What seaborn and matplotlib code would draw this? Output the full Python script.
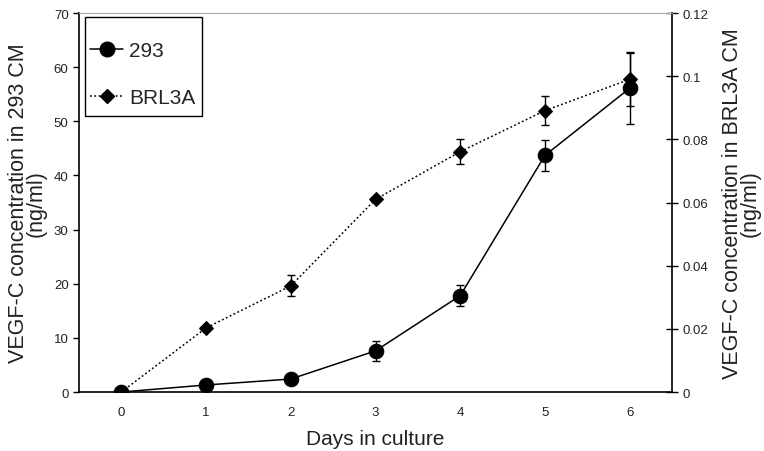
import numpy as np
import pandas as pd
import seaborn as sns
from matplotlib import pyplot as plt
from matplotlib.lines import Line2D
from matplotlib.patches import Rectangle

days = [0, 1, 2, 3, 4, 5, 6]
conc_293 = [0.0, 1.3, 2.4, 7.6, 17.8, 43.7, 56.1]
err_293 = [0.0, 0.0, 0.0, 1.8, 2.0, 2.8, 6.6]
conc_brl = [0.0, 0.0203, 0.0336, 0.061, 0.0761, 0.0891, 0.099]
err_brl = [0.0, 0.0, 0.0033, 0.0, 0.0039, 0.0046, 0.0085]

df = pd.DataFrame({'day': days, 'c293': conc_293, 'e293': err_293,
                   'cbrl': conc_brl, 'ebrl': err_brl})

sns.set_theme(style='white')
plt.rcParams['font.family'] = ['Liberation Sans', 'DejaVu Sans']

fig = plt.figure(figsize=(7.64, 4.52), dpi=100)
ax = fig.add_axes([0.1034, 0.1305, 0.7762, 0.8385])
ax2 = ax.twinx()

# 293 series, left axis
sns.lineplot(data=df, x='day', y='c293', ax=ax, color='black', lw=1.1,
             marker='o', markersize=10.5, markeredgecolor='black', zorder=3)
ax.errorbar(df['day'], df['c293'], yerr=df['e293'], fmt='none',
            ecolor='black', elinewidth=1, capsize=3, capthick=1, zorder=2)

# BRL3A series, right axis
sns.lineplot(data=df, x='day', y='cbrl', ax=ax2, color='black', lw=1.1,
             marker='D', markersize=7, markeredgecolor='black', zorder=3)
ax2.lines[-1].set_dashes([1.2, 1.6])
ax2.errorbar(df['day'], df['cbrl'], yerr=df['ebrl'], fmt='none',
             ecolor='black', elinewidth=1, capsize=3, capthick=1, zorder=2)

ax.set_xlim(-0.5, 6.5)
ax.set_ylim(0, 70)
ax2.set_ylim(0, 0.12)

ax.set_yticks(np.arange(0, 71, 10))
ax2.set_yticks(np.arange(0, 0.121, 0.02))
ax2.set_yticklabels(['0', '0.02', '0.04', '0.06', '0.08', '0.1', '0.12'])

# category axis: ticks between days, labels at days
ax.set_xticks(np.arange(-0.5, 6.6, 1))
ax.set_xticklabels([])
ax.set_xticks(days, minor=True)
ax.set_xticklabels([str(d) for d in days], minor=True)
ax.tick_params(axis='x', which='major', direction='inout', length=8,
               width=1, color='black')
ax.tick_params(axis='x', which='minor', length=0, pad=10,
               labelsize=9.5, labelcolor='#222222')
ax.tick_params(axis='y', direction='out', length=4, width=1, color='black',
               labelsize=9.5, labelcolor='#222222', left=True)
ax2.tick_params(axis='y', direction='inout', length=8, width=1,
                color='black', labelsize=9.5, labelcolor='#222222', right=True)

for a in (ax, ax2):
    for s in a.spines.values():
        s.set_visible(False)
ax.spines['left'].set_visible(True)
ax.spines['bottom'].set_visible(True)
ax2.spines['right'].set_visible(True)
ax2.spines['top'].set_visible(True)
for s in ('left', 'bottom'):
    ax.spines[s].set_color('black')
    ax.spines[s].set_linewidth(1.2)
ax2.spines['right'].set_color('black')
ax2.spines['right'].set_linewidth(1.2)
ax2.spines['top'].set_color('#aaaaaa')
ax2.spines['top'].set_linewidth(0.8)

ax.set_xlabel('Days in culture', fontsize=15, labelpad=8, color='#222222')
ax.set_ylabel('VEGF-C concentration in 293 CM\n(ng/ml)', fontsize=15.5,
              linespacing=0.8, labelpad=5, color='#222222')
ax2.set_ylabel('VEGF-C concentration in BRL3A CM\n(ng/ml)', fontsize=15.5,
               linespacing=0.8, rotation=90, labelpad=10, color='#222222')

# legend frame drawn on its own, legend entries placed inside it
ax2.add_patch(Rectangle((0.0101, 0.728), 0.197, 0.261, transform=ax2.transAxes,
                        facecolor='white', edgecolor='black', lw=1.0,
                        zorder=5))
handles = [
    Line2D([], [], color='black', lw=1.1, marker='o', markersize=10.5),
    Line2D([], [], color='black', lw=1.1, marker='D', markersize=7,
           dashes=[1.2, 1.6]),
]
leg = ax2.legend(handles, ['293', 'BRL3A'], loc='upper left',
                 bbox_to_anchor=(0.0, 0.956), fontsize=15, frameon=False,
                 handlelength=1.55, handletextpad=0.3, labelspacing=1.35,
                 borderpad=0.55, borderaxespad=0.0)
leg.set_zorder(6)

fig.savefig('out.png', dpi=100)
